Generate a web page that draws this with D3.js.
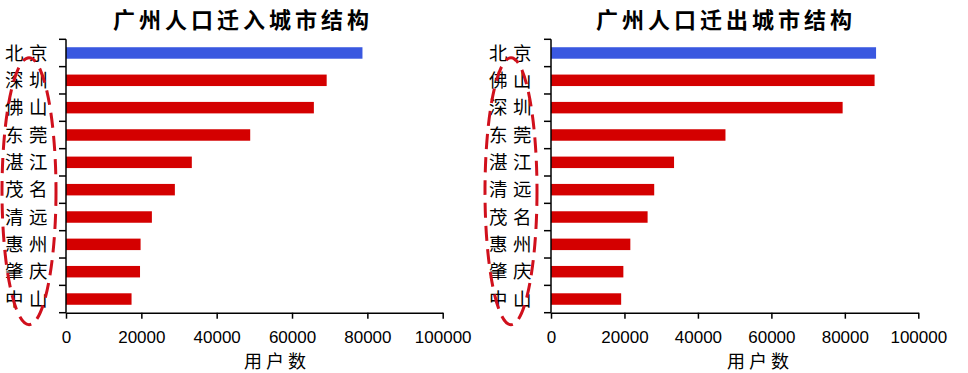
<!DOCTYPE html>
<html lang="zh">
<head>
  <meta charset="UTF-8">
  <title>广州人口迁入/迁出城市结构</title>
  <script src="https://d3js.org/d3.v7.min.js"></script>
  <style>
    body { margin: 0; background: #fff; }
    svg { display: block; }
    .axis path, .axis line { stroke: #000; stroke-width: 1.5px; }
    .tick-label { font-family: Arial, "Liberation Sans", sans-serif; font-size: 17px; fill: #000; }
    .cjk { font-family: "Noto Sans CJK SC", sans-serif; fill: #000; }
  </style>
</head>
<body>
<svg id="chart" width="968" height="373"></svg>
<script>
  // ---- data ----
  const inCities  = ['北京', '深圳', '佛山', '东莞', '湛江', '茂名', '清远', '惠州', '肇庆', '中山'];
  const inValues  = [78700, 69200, 65800, 48900, 33400, 28900, 22800, 19800, 19650, 17400];
  const outCities = ['北京', '佛山', '深圳', '东莞', '湛江', '清远', '茂名', '惠州', '肇庆', '中山'];
  const outValues = [88500, 88100, 79400, 47500, 33500, 28100, 26300, 21600, 19700, 19100];
  const xTicks = [0, 20000, 40000, 60000, 80000, 100000];
  const titles = ['广州人口迁入城市结构', '广州人口迁出城市结构'];
  const xTitle = '用户数';

  const svg = d3.select('#chart');
  const blue = '#3a58e0', red = '#d40000';

  const panels = [
    { cities: inCities,  values: inValues,  title: titles[0], x0: 66,  x1: 442.7, titleX: 243, xTitleX: 277, labelEnd: 47, ell: { cx: 29, rx: 27 } },
    { cities: outCities, values: outValues, title: titles[1], x0: 551, x1: 918.3, titleX: 726, xTitleX: 760, labelEnd: 531, ell: { cx: 511, rx: 26 } }
  ];
  const plotTop = 39.3, plotBottom = 312.7;

  panels.forEach(p => {
    const g = svg.append('g');
    const x = d3.scaleLinear().domain([0, 100000]).range([p.x0, p.x1]);
    const y = d3.scaleBand().domain(p.cities).range([plotTop, plotBottom]).padding(0);
    const step = y.step();
    const barH = step * 0.42;

    // title
    g.append('text')
      .attr('class', 'cjk')
      .attr('x', p.titleX).attr('y', 28)
      .attr('text-anchor', 'middle')
      .style('font-size', '22px').style('font-weight', 'bold')
      .style('letter-spacing', '4px')
      .text(p.title);

    // bars
    g.selectAll('rect.bar')
      .data(p.cities)
      .enter().append('rect')
        .attr('class', 'bar')
        .attr('x', x(0))
        .attr('y', d => y(d) + step / 2 - barH / 2)
        .attr('width', (d, i) => x(p.values[i]) - x(0))
        .attr('height', barH)
        .attr('fill', (d, i) => i === 0 ? blue : red);

    // y axis: ticks at band boundaries
    const bounds = p.cities.map(c => y(c)).concat([plotBottom]);
    g.append('line').attr('x1', x(0)).attr('x2', x(0)).attr('y1', plotTop).attr('y2', plotBottom)
      .attr('stroke', '#000').attr('stroke-width', 1.5);
    g.selectAll('line.ytick').data(bounds).enter().append('line')
      .attr('class', 'ytick')
      .attr('x1', x(0) - 7).attr('x2', x(0))
      .attr('y1', d => d).attr('y2', d => d)
      .attr('stroke', '#000').attr('stroke-width', 1.5);

    // y labels
    g.selectAll('text.ylab').data(p.cities).enter().append('text')
      .attr('class', 'cjk ylab')
      .attr('x', p.labelEnd + 6)
      .attr('y', d => y(d) + step / 2)
      .attr('dy', '0.36em')
      .attr('text-anchor', 'end')
      .style('font-size', '18.5px')
      .style('letter-spacing', '5.5px')
      .text(d => d);

    // x axis
    const xAxis = d3.axisBottom(x).tickValues(xTicks).tickSize(6).tickSizeOuter(0).tickFormat(d3.format('d'));
    const ax = g.append('g').attr('class', 'axis').attr('transform', `translate(0,${plotBottom})`).call(xAxis);
    ax.selectAll('text').attr('class', 'tick-label').attr('y', 18).attr('dy', '0.71em')
      .style('font-family', 'Arial, "Liberation Sans", sans-serif').style('font-size', '17px');

    // x title
    g.append('text')
      .attr('class', 'cjk')
      .attr('x', p.xTitleX).attr('y', 368)
      .attr('text-anchor', 'middle')
      .style('font-size', '18px')
      .style('letter-spacing', '4px')
      .text(xTitle);

    // dashed red ellipse annotation around the city labels (below 北京)
    const ey0 = y(p.cities[1]) - 9, ey1 = plotBottom + 12;
    g.append('ellipse')
      .attr('cx', p.ell.cx).attr('cy', (ey0 + ey1) / 2)
      .attr('rx', p.ell.rx).attr('ry', (ey1 - ey0) / 2)
      .attr('fill', 'none')
      .attr('stroke', '#d0101c')
      .attr('stroke-width', 3)
      .attr('stroke-dasharray', '15,8');
  });
</script>
</body>
</html>
